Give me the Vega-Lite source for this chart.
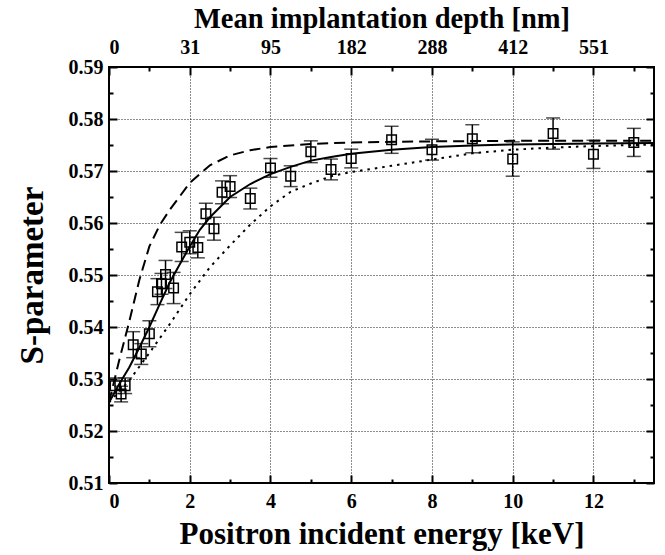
{
  "$schema": "https://vega.github.io/schema/vega-lite/v6.json",
  "autosize": "none",
  "width": 545,
  "height": 416,
  "padding": {"left": 109, "top": 67, "right": 11, "bottom": 72},
  "background": "white",
  "config": {
    "view": {"stroke": "black", "strokeWidth": 2},
    "axis": {
      "labelFont": "Liberation Serif", "labelFontWeight": "bold", "labelFontSize": 20, "labelColor": "black",
      "titleFont": "Liberation Serif", "titleFontWeight": "bold", "titleFontSize": 31, "titleColor": "black",
      "domain": false, "tickColor": "black", "tickWidth": 2,
      "gridColor": "black", "gridDash": [1, 2], "gridWidth": 1, "gridOpacity": 0.9
    }
  },
  "datasets": {
    "pts": [
      {"E": 0.15, "S": 0.5287, "lo": 0.5272, "hi": 0.5302},
      {"E": 0.3, "S": 0.5271, "lo": 0.5256, "hi": 0.5286},
      {"E": 0.4, "S": 0.5287, "lo": 0.5272, "hi": 0.5302},
      {"E": 0.6, "S": 0.5366, "lo": 0.5341, "hi": 0.5391},
      {"E": 0.8, "S": 0.5348, "lo": 0.5328, "hi": 0.5368},
      {"E": 1.0, "S": 0.5387, "lo": 0.5362, "hi": 0.5412},
      {"E": 1.2, "S": 0.5468, "lo": 0.5443, "hi": 0.5493},
      {"E": 1.3, "S": 0.5483, "lo": 0.5463, "hi": 0.5503},
      {"E": 1.4, "S": 0.5501, "lo": 0.5474, "hi": 0.5528},
      {"E": 1.6, "S": 0.5475, "lo": 0.5445, "hi": 0.5505},
      {"E": 1.8, "S": 0.5554, "lo": 0.5526, "hi": 0.5582},
      {"E": 2.0, "S": 0.5563, "lo": 0.5541, "hi": 0.5585},
      {"E": 2.2, "S": 0.5553, "lo": 0.5533, "hi": 0.5573},
      {"E": 2.4, "S": 0.5618, "lo": 0.5598, "hi": 0.5638},
      {"E": 2.6, "S": 0.5589, "lo": 0.5567, "hi": 0.5611},
      {"E": 2.8, "S": 0.5659, "lo": 0.5637, "hi": 0.5681},
      {"E": 3.0, "S": 0.567, "lo": 0.5649, "hi": 0.5691},
      {"E": 3.5, "S": 0.5647, "lo": 0.5627, "hi": 0.5667},
      {"E": 4.0, "S": 0.5706, "lo": 0.5688, "hi": 0.5724},
      {"E": 4.5, "S": 0.569, "lo": 0.567, "hi": 0.571},
      {"E": 5.0, "S": 0.5737, "lo": 0.5716, "hi": 0.5758},
      {"E": 5.5, "S": 0.5703, "lo": 0.5683, "hi": 0.5723},
      {"E": 6.0, "S": 0.5724, "lo": 0.5706, "hi": 0.5742},
      {"E": 7.0, "S": 0.576, "lo": 0.5734, "hi": 0.5786},
      {"E": 8.0, "S": 0.5741, "lo": 0.5721, "hi": 0.5761},
      {"E": 9.0, "S": 0.5762, "lo": 0.5735, "hi": 0.5789},
      {"E": 10.0, "S": 0.5723, "lo": 0.569, "hi": 0.5756},
      {"E": 11.0, "S": 0.5772, "lo": 0.5742, "hi": 0.5802},
      {"E": 12.0, "S": 0.5732, "lo": 0.5705, "hi": 0.5759},
      {"E": 13.0, "S": 0.5755, "lo": 0.5728, "hi": 0.5782}
    ],
    "solid": [
      {"E": 0, "S": 0.5255}, {"E": 0.25, "S": 0.529}, {"E": 0.5, "S": 0.5322}, {"E": 0.75, "S": 0.536},
      {"E": 1.0, "S": 0.54}, {"E": 1.25, "S": 0.5443}, {"E": 1.5, "S": 0.5485}, {"E": 1.75, "S": 0.552},
      {"E": 2.0, "S": 0.5555}, {"E": 2.25, "S": 0.5587}, {"E": 2.5, "S": 0.5611}, {"E": 3.0, "S": 0.565},
      {"E": 3.5, "S": 0.5675}, {"E": 4.0, "S": 0.5694}, {"E": 4.5, "S": 0.5708}, {"E": 5.0, "S": 0.572},
      {"E": 5.5, "S": 0.5727}, {"E": 6.0, "S": 0.5733}, {"E": 7.0, "S": 0.5741}, {"E": 8.0, "S": 0.5746},
      {"E": 9.0, "S": 0.5749}, {"E": 10.0, "S": 0.5751}, {"E": 11.0, "S": 0.5752}, {"E": 12.0, "S": 0.5753},
      {"E": 13.5, "S": 0.5754}
    ],
    "dashed": [
      {"E": 0, "S": 0.5255}, {"E": 0.25, "S": 0.5335}, {"E": 0.5, "S": 0.541}, {"E": 0.75, "S": 0.549},
      {"E": 1.0, "S": 0.5555}, {"E": 1.25, "S": 0.5595}, {"E": 1.5, "S": 0.5625}, {"E": 2.0, "S": 0.5677},
      {"E": 2.5, "S": 0.5711}, {"E": 3.0, "S": 0.573}, {"E": 3.5, "S": 0.574}, {"E": 4.0, "S": 0.5746},
      {"E": 5.0, "S": 0.5752}, {"E": 6.0, "S": 0.5755}, {"E": 8.0, "S": 0.5757}, {"E": 10.0, "S": 0.5758},
      {"E": 13.5, "S": 0.5758}
    ],
    "dotted": [
      {"E": 0, "S": 0.5255}, {"E": 0.5, "S": 0.5297}, {"E": 1.0, "S": 0.535}, {"E": 1.5, "S": 0.5405},
      {"E": 2.0, "S": 0.5463}, {"E": 2.5, "S": 0.5515}, {"E": 3.0, "S": 0.5557}, {"E": 3.5, "S": 0.5597},
      {"E": 4.0, "S": 0.5632}, {"E": 4.5, "S": 0.566}, {"E": 5.0, "S": 0.5676}, {"E": 5.5, "S": 0.569},
      {"E": 6.0, "S": 0.5698}, {"E": 7.0, "S": 0.571}, {"E": 8.0, "S": 0.5722}, {"E": 9.0, "S": 0.5734},
      {"E": 10.0, "S": 0.5741}, {"E": 11.0, "S": 0.5745}, {"E": 12.0, "S": 0.5748}, {"E": 13.5, "S": 0.5751}
    ]
  },
  "resolve": {"axis": {"x": "independent", "y": "independent"}},
  "layer": [
    {
      "data": {"name": "pts"},
      "mark": {"type": "rule", "color": "black", "strokeWidth": 1.5},
      "encoding": {
        "x": {"field": "E", "type": "quantitative",
              "scale": {"domain": [0, 13.5], "nice": false, "zero": false},
              "axis": {"orient": "bottom", "values": [0, 2, 4, 6, 8, 10, 12], "tickSize": -8, "labelPadding": 16, "labelFontSize": 20,
                       "grid": true, "title": "Positron incident energy [keV]", "titlePadding": 8}},
        "y": {"field": "lo", "type": "quantitative",
              "scale": {"domain": [0.51, 0.59], "nice": false, "zero": false},
              "axis": {"orient": "left", "values": [0.51, 0.52, 0.53, 0.54, 0.55, 0.56, 0.57, 0.58, 0.59], "format": ".2f",
                       "tickSize": -8, "labelPadding": 14, "labelFontSize": 20, "grid": true, "title": "S-parameter", "titleFontSize": 33, "titlePadding": 19}},
        "y2": {"field": "hi"}
      }
    },
    {
      "data": {"name": "pts"},
      "mark": {"type": "tick", "orient": "horizontal", "color": "black", "size": 14, "thickness": 1.5},
      "encoding": {
        "x": {"field": "E", "type": "quantitative",
              "axis": {"orient": "bottom", "values": [1, 3, 5, 7, 9, 11, 13], "tickSize": -4, "labels": false, "grid": false, "title": null}},
        "y": {"field": "hi", "type": "quantitative",
              "axis": {"orient": "left", "values": [0.515, 0.525, 0.535, 0.545, 0.555, 0.565, 0.575, 0.585], "tickSize": -4, "labels": false, "grid": false, "title": null}}
      }
    },
    {
      "data": {"name": "pts"},
      "mark": {"type": "tick", "orient": "horizontal", "color": "black", "size": 14, "thickness": 1.5},
      "encoding": {
        "x": {"field": "E", "type": "quantitative",
              "axis": {"orient": "top", "values": [0, 2, 4, 6, 8, 10, 12], "tickSize": -8, "labelPadding": 18, "labelFontSize": 20, "grid": false,
                       "labelExpr": "['0','31','95','182','288','412','551'][round(datum.value/2)]",
                       "title": "Mean implantation depth [nm]", "titleFontSize": 28.5, "titlePadding": 4}},
        "y": {"field": "lo", "type": "quantitative",
              "axis": {"orient": "right", "values": [0.51, 0.52, 0.53, 0.54, 0.55, 0.56, 0.57, 0.58, 0.59], "tickSize": -8, "labels": false, "grid": false, "title": null}}
      }
    },
    {
      "data": {"name": "solid"},
      "mark": {"type": "line", "color": "black", "strokeWidth": 2},
      "encoding": {
        "x": {"field": "E", "type": "quantitative",
              "axis": {"orient": "top", "values": [1, 3, 5, 7, 9, 11, 13], "tickSize": -4, "labels": false, "grid": false, "title": null}},
        "y": {"field": "S", "type": "quantitative",
              "axis": {"orient": "right", "values": [0.515, 0.525, 0.535, 0.545, 0.555, 0.565, 0.575, 0.585], "tickSize": -4, "labels": false, "grid": false, "title": null}}
      }
    },
    {
      "data": {"name": "dashed"},
      "mark": {"type": "line", "color": "black", "strokeWidth": 2, "strokeDash": [11, 6]},
      "encoding": {
        "x": {"field": "E", "type": "quantitative", "axis": null},
        "y": {"field": "S", "type": "quantitative", "axis": null}
      }
    },
    {
      "data": {"name": "dotted"},
      "mark": {"type": "line", "color": "black", "strokeWidth": 2, "strokeDash": [2.5, 5]},
      "encoding": {
        "x": {"field": "E", "type": "quantitative", "axis": null},
        "y": {"field": "S", "type": "quantitative", "axis": null}
      }
    },
    {
      "data": {"name": "pts"},
      "mark": {"type": "point", "shape": "square", "filled": false, "color": "black", "size": 90, "strokeWidth": 1.5, "opacity": 1},
      "encoding": {
        "x": {"field": "E", "type": "quantitative", "axis": null},
        "y": {"field": "S", "type": "quantitative", "axis": null}
      }
    }
  ]
}
